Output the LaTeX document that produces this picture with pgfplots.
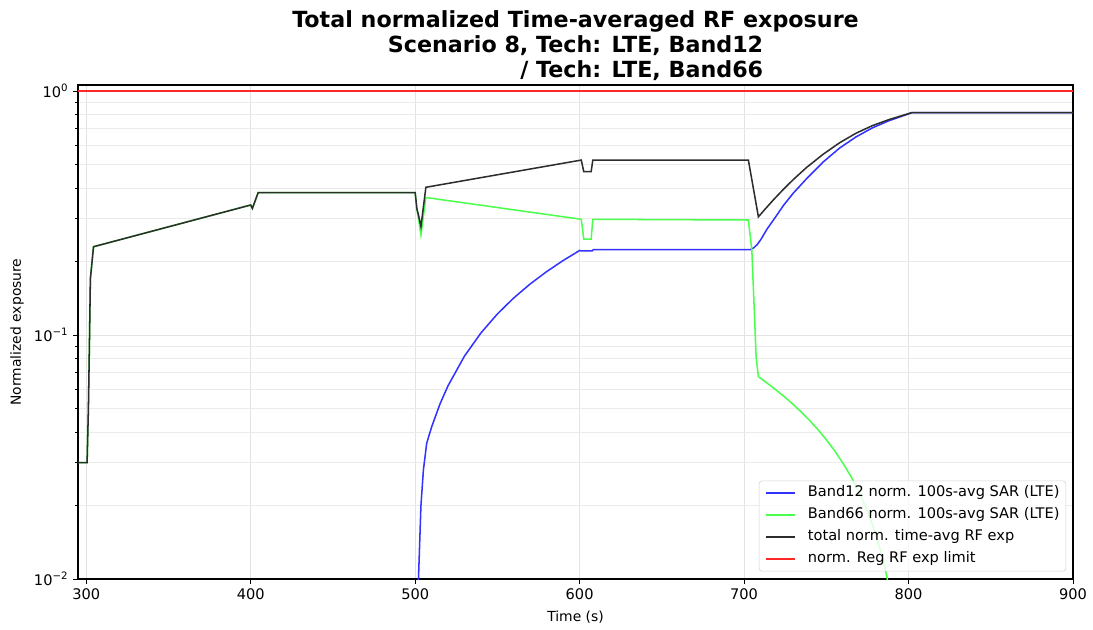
\documentclass[border=0pt]{standalone}
\usepackage{fontspec}
\setmainfont{DejaVu Sans}
\usepackage{pgfplots}
\pgfplotsset{compat=1.18}
\definecolor{cblue}{RGB}{51,51,255}
\definecolor{cgreen}{RGB}{77,255,77}
\definecolor{cblack}{RGB}{45,45,45}
\definecolor{cred}{RGB}{255,40,40}
\begin{document}
\begin{tikzpicture}
\useasboundingbox (-56.2pt,-36.7pt) rectangle (730.8pt,416.9pt);
\begin{axis}[
  scale only axis,
  width=716.4pt, height=355.7pt,
  xmin=295, xmax=900,
  ymode=log, ymin=0.01, ymax=1.058,
  xtick={300,400,500,600,700,800,900},
  ytick={0.01,0.1,1},
  yticklabels={10\textsuperscript{−2},10\textsuperscript{−1},10\textsuperscript{0}},
  /pgf/number format/assume math mode=true,
  /pgf/number format/1000 sep={},
  tick label style={font=\fontsize{10.5}{12.5}\selectfont},
  tick align=outside,
  xtick pos=left, ytick pos=left,
  major tick length=3.5pt, minor tick length=2pt,
  every tick/.style={black, line width=0.6pt},
  axis line style={black, line width=0.8pt},
  xmajorgrids, ymajorgrids, yminorgrids,
  major grid style={gray!22, line width=0.6pt},
  minor grid style={gray!16, line width=0.6pt},
  xlabel={Time (s)},
  ylabel={Normalized exposure},
  label style={font=\fontsize{10.5}{12.5}\selectfont},
  every axis x label/.style={at={(axis description cs:0.5,-0.077)}, anchor=center},
  every axis y label/.style={at={(axis description cs:-0.0614,0.5)}, anchor=center, rotate=90},
  title style={at={(axis description cs:0.5,1)}, anchor=south, yshift=-3pt, inner sep=0pt, align=center, font=\bfseries\fontsize{16}{18}\selectfont},
  title={Total normalized Time-averaged RF exposure\\Scenario 8, Tech: LTE, Band12\\\hphantom{Scenario 8, Tech: LTE, Band12}\llap{/ Tech: LTE, Band66}},
  legend style={at={(axis description cs:1,0)}, anchor=south east, xshift=-5pt, yshift=5.5pt,
    font=\fontsize{10.5}{12.5}\selectfont, draw=gray!35, rounded corners=2pt, fill=white, fill opacity=0.8, text opacity=1,
    inner xsep=4.5pt, inner ysep=4pt, row sep=6.3pt, column sep=8.6pt,
    nodes={inner sep=0pt, text height=7.5pt, text depth=2pt}},
  legend cell align=left,
  legend image code/.code={\draw[#1] (0pt,0pt) -- (21pt,0pt);},
  clip=true,
]
\addplot[cblue, line width=1.1pt] coordinates {
(501.5,0.005) (502,0.01) (503.5,0.02) (505,0.028) (507,0.036) (510,0.042) (515,0.052) (520,0.062)
(530,0.082) (540,0.102) (550,0.122) (560,0.142) (570,0.162) (580,0.182) (590,0.202) (600,0.222)
(601,0.221) (607.5,0.221) (608.5,0.224) (704,0.224) (706,0.228) (708,0.235) (710,0.245) (714,0.272)
(718,0.297) (724,0.340) (730,0.382) (738,0.437) (748,0.511) (758,0.583) (768,0.648) (778,0.706)
(788,0.755) (798,0.797) (802,0.815) (900,0.815)
};
\addlegendentry{Band12 norm. 100s-avg SAR (LTE)}
\addplot[cgreen, line width=1.1pt] coordinates {
(295,0.03) (300.5,0.03) (301.3,0.05) (302,0.1) (302.5,0.17) (304.4,0.23) (400,0.341) (401,0.33)
(404.5,0.383) (500,0.383) (501,0.33) (502,0.30) (503.5,0.257) (506.5,0.366) (601,0.298)
(602.5,0.247) (607,0.247) (608,0.298) (702.6,0.296) (704.7,0.223) (706.1,0.131) (707.3,0.0815)
(708.7,0.0675) (715,0.0628) (720,0.0591) (725,0.0555) (730,0.0518) (735,0.0482) (740,0.0445)
(745,0.0409) (750,0.0372) (755,0.0336) (760,0.0299) (765,0.0263) (770,0.0226) (775,0.019)
(780,0.0153) (785,0.0117) (790,0.008) (795,0.0044)
};
\addlegendentry{Band66 norm. 100s-avg SAR (LTE)}
\addplot[cblack, line width=1.1pt] coordinates {
(295,0.03) (300.5,0.03) (301.3,0.05) (302,0.1) (302.5,0.17) (304.4,0.23) (400,0.341) (401,0.33)
(404.5,0.383) (500,0.383) (501,0.33) (502,0.31) (503.5,0.278) (506.5,0.403) (601,0.521)
(602.5,0.467) (607,0.467) (608,0.521) (702.6,0.521) (708.7,0.305) (714,0.335) (718,0.359)
(724,0.396) (730,0.434) (738,0.486) (748,0.550) (758,0.613) (768,0.671) (778,0.721) (788,0.763)
(798,0.800) (802,0.815) (900,0.815)
};
\addlegendentry{total norm. time-avg RF exp}
\addplot[cred, line width=1.1pt] coordinates {(295,1) (900,1)};
\addlegendentry{norm. Reg RF exp limit}
\end{axis}
\end{tikzpicture}
\end{document}
